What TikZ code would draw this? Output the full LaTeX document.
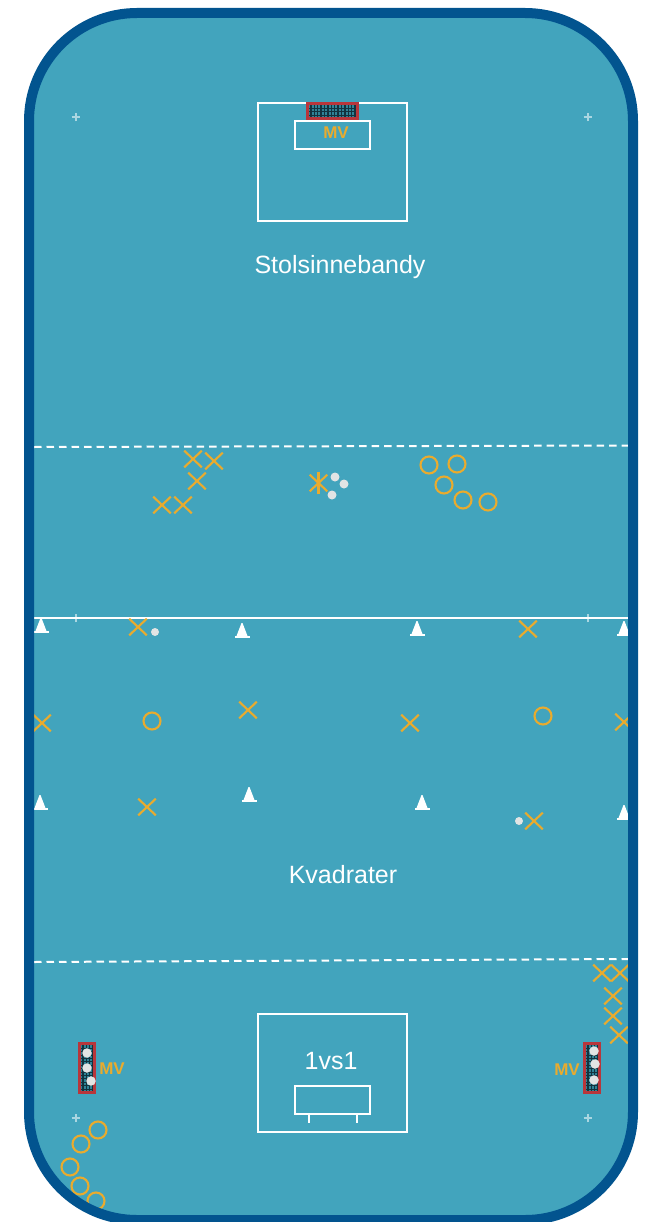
\documentclass[tikz,border=0pt]{standalone}
\usepackage{fontspec}
\setmainfont{Liberation Sans}
\usepackage{xcolor}
\usetikzlibrary{shapes.misc}
\definecolor{rinkfield}{HTML}{42A4BD}
\definecolor{rinkborder}{HTML}{02548F}
\definecolor{playergold}{HTML}{E9AB2E}
\definecolor{goalred}{HTML}{B8363B}
\definecolor{goalnet}{HTML}{12333F}
\definecolor{goalgap}{HTML}{2F8397}
\definecolor{ballgrey}{HTML}{E2E4E4}
\tikzset{
  crossplayer/.style={
    cross out,
    draw=playergold,
    line width=2.1pt,
    inner sep=0pt,
    minimum width=15.5pt,
    minimum height=14.5pt
  },
  ringplayer/.style={
    circle,
    draw=playergold,
    line width=2.1pt,
    inner sep=0pt,
    minimum size=17pt
  },
  ballmark/.style={
    circle,
    fill=ballgrey,
    inner sep=0pt,
    minimum size=9pt
  },
  squareball/.style={ballmark, minimum size=8pt},
  goalball/.style={ballmark, minimum size=9.5pt},
  spotmark/.style={
    cross out,
    rotate=45,
    draw=white!55!rinkfield,
    line width=1.2pt,
    inner sep=0pt,
    minimum size=5pt
  },
  areabox/.style={
    rectangle,
    draw=white,
    line width=2pt,
    inner sep=0pt,
    minimum width=149pt,
    minimum height=118pt
  },
  creasebox/.style={areabox, minimum width=75pt, minimum height=28pt},
  goalbox/.style={
    rectangle,
    inner sep=0pt,
    fill=goalgap,
    path picture={
      \foreach \k in {0,...,15}{
        \draw[goalnet, line width=1.4pt] ([xshift=\k*3.4pt]path picture bounding box.south west) -- ([xshift=\k*3.4pt]path picture bounding box.north west);
        \draw[goalnet, line width=1.1pt] ([yshift=\k*3.4pt]path picture bounding box.south west) -- ([yshift=\k*3.4pt]path picture bounding box.south east);
      }
    }
  },
  goalframe/.style={rectangle, inner sep=0pt, draw=goalred, line width=2.2pt},
  goalwide/.style={minimum width=50pt, minimum height=15pt},
  goaltall/.style={minimum width=15pt, minimum height=49pt},
  zonelabel/.style={text=white, font=\fontsize{25}{29}\selectfont, inner sep=0pt},
  keeperlabel/.style={text=playergold, font=\fontsize{17}{20}\selectfont\bfseries, inner sep=0pt},
  zoneline/.style={draw=white, line width=2pt},
  zonedash/.style={draw=white, line width=2pt, dash pattern=on 7.5pt off 5pt},
  conemark/.pic={
    \fill[white] (-5.5,6) -- (-0.5,-7) -- (0.5,-7) -- (5.5,6) -- cycle;
    \fill[white] (-7.5,6) rectangle (7.5,7.5);
  }
}
\begin{document}
\begin{tikzpicture}[x=1pt,y=-1pt]
\useasboundingbox (0,0) rectangle (645,1222);
\fill[rinkfield, rounded corners=108pt] (29,13) rectangle (633,1220);
\node[areabox] (toparea) at (332.5,162) {};
\node[creasebox] (topcrease) at (332.5,135) {};
\node[goalbox, goalwide] (topgoal) at (332.5,111) {};
\node[goalframe, goalwide] (topframe) at (332.5,111) {};
\node[keeperlabel] (topkeeper) at (336,133) {MV};
\node[zonelabel] (chairzone) at (340,267) {Stolsinnebandy};
\node[spotmark] (spotnw) at (76,117) {};
\node[spotmark] (spotne) at (588,117) {};
\node[spotmark] (spotmw) at (76,618) {};
\node[spotmark] (spotme) at (588,618) {};
\node[spotmark] (spotsw) at (76,1118) {};
\node[spotmark] (spotse) at (588,1118) {};
\coordinate (dashnw) at (34,447);
\coordinate (dashne) at (628,445.5);
\coordinate (midw) at (34,618);
\coordinate (mide) at (628,618);
\coordinate (dashsw) at (34,962);
\coordinate (dashse) at (628,959);
\draw[zonedash] (dashnw) -- (dashne);
\draw[zoneline] (midw) -- (mide);
\draw[zonedash] (dashsw) -- (dashse);
\node[crossplayer] (teamxa) at (193,459) {};
\node[crossplayer] (teamxb) at (214,461) {};
\node[crossplayer] (teamxc) at (197,481) {};
\node[crossplayer] (teamxd) at (162,505) {};
\node[crossplayer] (teamxe) at (183,505) {};
\node[ringplayer] (teamoa) at (429,465) {};
\node[ringplayer] (teamob) at (457,464) {};
\node[ringplayer] (teamoc) at (444,485) {};
\node[ringplayer] (teamod) at (463,500) {};
\node[ringplayer] (teamoe) at (488,502) {};
\node[crossplayer] (coach) at (318.5,483) {};
\draw[playergold, line width=2.1pt] ([yshift=3pt]coach.north) -- ([yshift=-3pt]coach.south);
\node[ballmark] (chairballa) at (335,477) {};
\node[ballmark] (chairballb) at (344,484) {};
\node[ballmark] (chairballc) at (332,495) {};
\pic at (41,625) {conemark};
\pic at (242,630) {conemark};
\pic at (417,628) {conemark};
\pic at (624,628) {conemark};
\pic at (40,802) {conemark};
\pic at (249,794) {conemark};
\pic at (422,802) {conemark};
\pic at (624,812) {conemark};
\node[crossplayer] (squarexa) at (138,627) {};
\node[crossplayer] (squarexb) at (528,629) {};
\node[crossplayer] (squarexc) at (42,723) {};
\node[crossplayer] (squarexd) at (248,710) {};
\node[crossplayer] (squarexe) at (410,723) {};
\node[crossplayer] (squarexf) at (624,722) {};
\node[crossplayer] (squarexg) at (147,807) {};
\node[crossplayer] (squarexh) at (534,821) {};
\node[ringplayer] (squareoa) at (152,721) {};
\node[ringplayer] (squareob) at (543,716) {};
\node[squareball] (squareballa) at (155,632) {};
\node[squareball] (squareballb) at (519,821) {};
\node[zonelabel] (squarezone) at (343,875) {Kvadrater};
\node[areabox] (lowarea) at (332.5,1073) {};
\node[creasebox] (lowcrease) at (332.5,1100) {};
\coordinate (legwtop) at (309,1114);
\coordinate (legwend) at (309,1123);
\coordinate (legetop) at (357,1114);
\coordinate (legeend) at (357,1123);
\draw[zoneline] (legwtop) -- (legwend);
\draw[zoneline] (legetop) -- (legeend);
\node[zonelabel] (duelzone) at (331,1061) {1vs1};
\node[goalbox, goaltall] (leftgoal) at (87,1068) {};
\node[goalframe, goaltall] (leftframe) at (87,1068) {};
\node[goalball] (leftballa) at (87,1053) {};
\node[goalball] (leftballb) at (87,1068) {};
\node[goalball] (leftballc) at (91,1081) {};
\node[keeperlabel] (leftkeeper) at (112,1069) {MV};
\node[goalbox, goaltall] (rightgoal) at (592,1068) {};
\node[goalframe, goaltall] (rightframe) at (592,1068) {};
\node[goalball] (rightballa) at (594,1051) {};
\node[goalball] (rightballb) at (595,1064) {};
\node[goalball] (rightballc) at (594,1080) {};
\node[keeperlabel] (rightkeeper) at (567,1070) {MV};
\node[crossplayer] (queuexa) at (602,973) {};
\node[crossplayer] (queuexb) at (620,973) {};
\node[crossplayer] (queuexc) at (613,996) {};
\node[crossplayer] (queuexd) at (613,1016) {};
\node[crossplayer] (queuexe) at (619,1035) {};
\node[ringplayer] (queueoa) at (98,1130) {};
\node[ringplayer] (queueob) at (81,1144) {};
\node[ringplayer] (queueoc) at (70,1167) {};
\node[ringplayer] (queueod) at (80,1186) {};
\node[ringplayer] (queueoe) at (96,1201) {};
\draw[rinkborder, line width=10pt, rounded corners=108pt] (29,13) rectangle (633,1220);
\end{tikzpicture}
\end{document}
